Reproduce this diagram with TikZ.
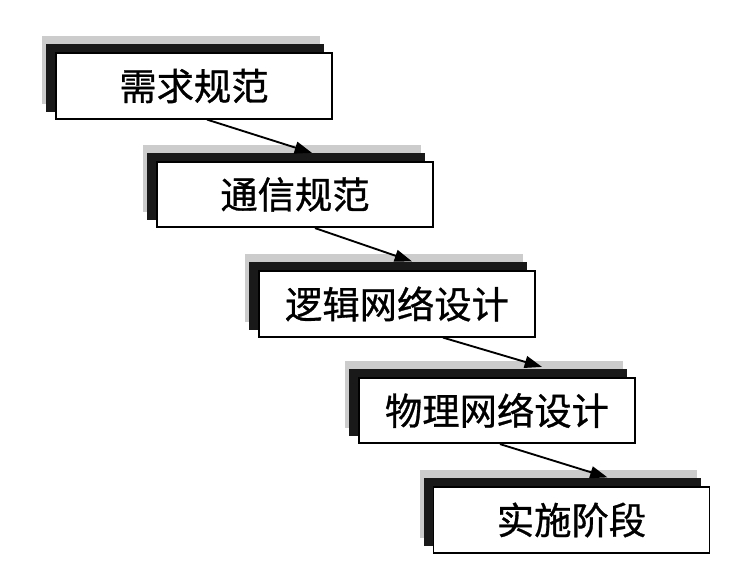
\documentclass[tikz,border=0pt]{standalone}
\usepackage{fontspec}
\newfontfamily\cjk[FakeBold=0.8]{Noto Sans CJK SC}
\usepackage{tikz}
\usetikzlibrary{arrows.meta,backgrounds}

\tikzset{
  stage/.style={draw, line width=1.4pt, fill=white, minimum width=207pt, minimum height=49pt, inner sep=0pt, font=\cjk\fontsize{28}{30}\selectfont},
  flow/.style={line width=1.4pt, -{Triangle[length=13pt,width=9pt]}},
  haze/.style={fill=black!20},
  dark/.style={fill=black!90}
}

\begin{document}
\begin{tikzpicture}[x=0.75pt,y=0.75pt,yscale=-1,xscale=1]

\useasboundingbox (0,0) rectangle (747,574);

\node[stage] (req) at (194,86) {需求规范};

\node[stage] (comm) at (295,194.5) {通信规范};

\node[stage] (logic) at (397,304) {逻辑网络设计};

\node[stage] (phys) at (497,410.5) {物理网络设计};

\node[stage] (impl) at (571.5,520) {实施阶段};

\begin{scope}[on background layer]
\foreach \s in {req,comm,logic,phys,impl}{
  \fill[haze] ([shift={(-13,-16)}]\s.north west) rectangle ([shift={(-13,-16)}]\s.south east);
  \fill[dark] ([shift={(-9,-8)}]\s.north west) rectangle ([shift={(-9,-8)}]\s.south east);
}
\end{scope}

\draw[flow] ([shift={(13,0)}]req.south) -- ([shift={(17,-8)}]comm.north);

\draw[flow] ([shift={(20,0)}]comm.south) -- ([shift={(15,-9)}]logic.north);

\draw[flow] ([shift={(46,0)}]logic.south) -- ([shift={(45,-10)}]phys.north);

\draw[flow] ([shift={(3,0)}]phys.south) -- ([shift={(36,-9)}]impl.north);

\end{tikzpicture}
\end{document}
